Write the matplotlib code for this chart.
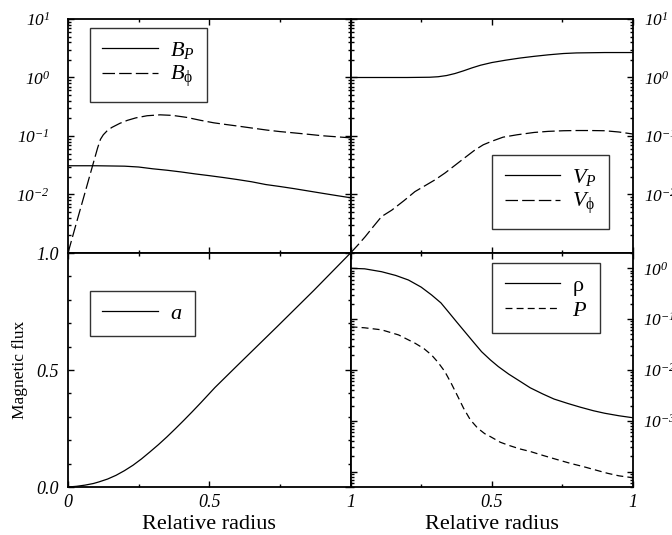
import numpy as np
import matplotlib
matplotlib.use("Agg")
import matplotlib.pyplot as plt
from matplotlib.ticker import FixedLocator, FuncFormatter, MultipleLocator, LogLocator

plt.rcParams['font.family'] = ['Liberation Serif', 'DejaVu Serif']
plt.rcParams['mathtext.fontset'] = 'custom'
plt.rcParams['mathtext.rm'] = 'Liberation Serif:italic'
plt.rcParams['mathtext.it'] = 'Liberation Serif:italic'
plt.rcParams['mathtext.sf'] = 'Liberation Serif'
plt.rcParams['mathtext.default'] = 'it'
plt.rcParams['lines.scale_dashes'] = False

# top left: magnetic field components
r_bp = [0, 0.1, 0.2, 0.25, 0.3, 0.35, 0.4, 0.45, 0.5, 0.55, 0.6, 0.65, 0.7, 0.75, 0.8, 0.85, 0.9, 0.95, 1.0]
b_p = [0.031, 0.031, 0.0305, 0.0295, 0.0275, 0.026, 0.0243, 0.0225, 0.021, 0.0195, 0.018, 0.0165,
       0.0148, 0.0137, 0.0126, 0.0115, 0.0105, 0.0096, 0.0088]
r_bphi = [0, 0.03, 0.06, 0.09, 0.105, 0.115, 0.125, 0.138, 0.155, 0.184, 0.21, 0.24, 0.28, 0.326,
          0.37, 0.42, 0.47, 0.516, 0.56, 0.6, 0.65, 0.705, 0.75, 0.8, 0.85, 0.9, 0.95, 1.0]
b_phi = [0.001, 0.0033, 0.0107, 0.035, 0.063, 0.088, 0.105, 0.122, 0.14, 0.165, 0.185, 0.204, 0.222, 0.23,
         0.225, 0.208, 0.185, 0.168, 0.157, 0.148, 0.137, 0.126, 0.119, 0.113, 0.107, 0.101, 0.097, 0.093]

# top right: velocity components
r_vp = [0, 0.1, 0.2, 0.28, 0.31, 0.34, 0.37, 0.40, 0.43, 0.46, 0.5, 0.55, 0.6, 0.65, 0.7, 0.754, 0.8, 0.9, 1.0]
v_p = [1.0, 1.0, 1.0, 1.01, 1.03, 1.08, 1.17, 1.30, 1.46, 1.62, 1.80, 1.98, 2.15, 2.30, 2.44, 2.57, 2.63, 2.67, 2.67]
r_vphi = [0, 0.025, 0.052, 0.08, 0.11, 0.146, 0.19, 0.228, 0.26, 0.299, 0.335, 0.37, 0.405, 0.44, 0.47,
          0.5, 0.54, 0.59, 0.65, 0.7, 0.754, 0.8, 0.85, 0.9, 0.95, 1.0]
v_phi = [0.001, 0.00135, 0.0019, 0.0028, 0.0042, 0.0054, 0.0079, 0.0112, 0.0138, 0.0178, 0.0234, 0.0316,
         0.0427, 0.0575, 0.0708, 0.0813, 0.0955, 0.105, 0.115, 0.120, 0.123, 0.124, 0.124, 0.123, 0.117, 0.108]

# bottom left: magnetic flux
r_a = [0, 0.03, 0.06, 0.09, 0.11, 0.14, 0.17, 0.2, 0.23, 0.26, 0.29, 0.32, 0.35, 0.38, 0.41, 0.44, 0.47,
       0.52, 0.6, 0.74, 0.87, 1.0]
flux_a = [0, 0.003, 0.008, 0.015, 0.022, 0.034, 0.05, 0.07, 0.093, 0.12, 0.15, 0.181, 0.214, 0.249, 0.285,
          0.322, 0.36, 0.425, 0.52, 0.685, 0.84, 1.0]

# bottom right: density and pressure
r_rho = [0, 0.05, 0.11, 0.16, 0.205, 0.25, 0.287, 0.32, 0.346, 0.375, 0.405, 0.435, 0.464, 0.495, 0.523,
         0.56, 0.6, 0.636, 0.68, 0.72, 0.77, 0.813, 0.86, 0.9, 0.95, 1.0]
rho = [1.0, 0.977, 0.857, 0.724, 0.589, 0.427, 0.299, 0.209, 0.140, 0.0891, 0.0562, 0.0355, 0.0229, 0.0158,
       0.0117, 0.0083, 0.0060, 0.00447, 0.00339, 0.00269, 0.00219, 0.00186, 0.00158, 0.00141, 0.00126, 0.00115]
r_pr = [0, 0.05, 0.11, 0.17, 0.229, 0.26, 0.287, 0.31, 0.334, 0.357, 0.38, 0.4, 0.424, 0.45, 0.475, 0.495,
        0.53, 0.56, 0.6, 0.636, 0.68, 0.73, 0.78, 0.824, 0.87, 0.91, 0.95, 1.0]
pres = [0.0708, 0.0676, 0.0617, 0.049, 0.0335, 0.0263, 0.0197, 0.0141, 0.0093, 0.0054, 0.0030, 0.00178,
        0.00105, 0.00072, 0.00056, 0.00049, 0.00038, 0.00033, 0.00028, 0.00025, 0.00021, 0.000174,
        0.000145, 0.000126, 0.000107, 9.3e-5, 8.3e-5, 7.6e-5]

fig, axes = plt.subplots(2, 2, figsize=(6.72, 5.35), dpi=100)
fig.subplots_adjust(left=0.1012, right=0.942, top=0.9645, bottom=0.0897, wspace=0, hspace=0)
ax_b, ax_v = axes[0]
ax_a, ax_r = axes[1]

lw = 0.9
ax_b.plot(r_bp, b_p, color='black', lw=lw, label='$B_P$')
ax_b.plot(r_bphi, b_phi, color='black', lw=lw, dashes=(9, 3), label=r'$B_{\mathsf{\phi}}$')
ax_v.plot(r_vp, v_p, color='black', lw=lw, label='$V_P$')
ax_v.plot(r_vphi, v_phi, color='black', lw=lw, dashes=(9, 3), label=r'$V_{\mathsf{\phi}}$')
ax_a.plot(r_a, flux_a, color='black', lw=lw, label='$a$')
ax_r.plot(r_rho, rho, color='black', lw=lw, label=r'$\mathsf{\rho}$')
ax_r.plot(r_pr, pres, color='black', lw=lw, dashes=(5, 3), label='$P$')


def log_fmt(hide):
    def f(v, pos):
        e = int(round(np.log10(v)))
        if e in hide:
            return ''
        return r'$10^{%d}$' % e
    return f


for ax in (ax_b, ax_v):
    ax.set_yscale('log')
    ax.set_ylim(1e-3, 1e1)
    ax.yaxis.set_major_locator(LogLocator(base=10, numticks=10))
    ax.yaxis.set_minor_locator(LogLocator(base=10, subs=np.arange(2, 10), numticks=20))
    ax.yaxis.set_major_formatter(FuncFormatter(log_fmt([-3])))
ax_r.set_yscale('log')
ax_r.set_ylim(5e-5, 2)
ax_r.yaxis.set_major_locator(LogLocator(base=10, numticks=10))
ax_r.yaxis.set_minor_locator(LogLocator(base=10, subs=np.arange(2, 10), numticks=20))
ax_r.yaxis.set_major_formatter(FuncFormatter(log_fmt([-4])))
ax_a.set_ylim(0, 1)
ax_a.yaxis.set_major_locator(FixedLocator([0, 0.5, 1.0]))
ax_a.yaxis.set_minor_locator(MultipleLocator(0.1))
ax_a.set_yticklabels(['0.0', '0.5', '1.0'], fontstyle='italic')

for ax in axes.flat:
    ax.set_xlim(0, 1)
    ax.xaxis.set_major_locator(FixedLocator([0, 0.5, 1]))
    ax.xaxis.set_minor_locator(FixedLocator([0.25, 0.75]))
    ax.tick_params(which='both', direction='in', top=True, right=True, width=1.0)
    ax.tick_params(which='major', length=4.5)
    ax.tick_params(which='minor', length=2.5)
    for s in ax.spines.values():
        s.set_linewidth(1.3)

for ax in (ax_b, ax_v):
    ax.tick_params(labelbottom=False)
ax_v.tick_params(labelleft=False, labelright=True)
ax_r.tick_params(labelleft=False, labelright=True)

ax_b.tick_params(axis='y', labelsize=12.5, pad=13)
ax_v.tick_params(axis='y', labelsize=12.5, pad=8)
ax_r.tick_params(axis='y', labelsize=12.5, pad=7.5)
ax_a.tick_params(axis='y', labelsize=13, pad=6.5)

ax_a.set_xticklabels(['0', '0.5', '1'], fontstyle='italic')
ax_r.set_xticklabels(['', '0.5', '1'], fontstyle='italic')
for ax in (ax_a, ax_r):
    ax.tick_params(axis='x', labelsize=13, pad=5)
    ax.set_xlabel('Relative radius', fontsize=16)
    ax.xaxis.set_label_coords(0.5, -0.12)

ax_a.set_ylabel('Magnetic flux', fontsize=12.5)
ax_a.yaxis.set_label_coords(-0.142, 0.5)

leg_kw = dict(frameon=True, fancybox=False, edgecolor='black', fontsize=16,
              handlelength=2.5, handletextpad=0.55, labelspacing=0.12, borderpad=0.55, borderaxespad=0)
legs = [ax_b.legend(loc='upper left', bbox_to_anchor=(0.078, 0.9615), **leg_kw),
        ax_v.legend(loc='upper left', bbox_to_anchor=(0.502, 0.419), **leg_kw),
        ax_a.legend(loc='upper left', bbox_to_anchor=(0.078, 0.8376), **leg_kw),
        ax_r.legend(loc='upper left', bbox_to_anchor=(0.502, 0.957), **leg_kw)]
for lg in legs:
    lg.get_frame().set_linewidth(1.0)

fig.savefig('out.png', dpi=100)
